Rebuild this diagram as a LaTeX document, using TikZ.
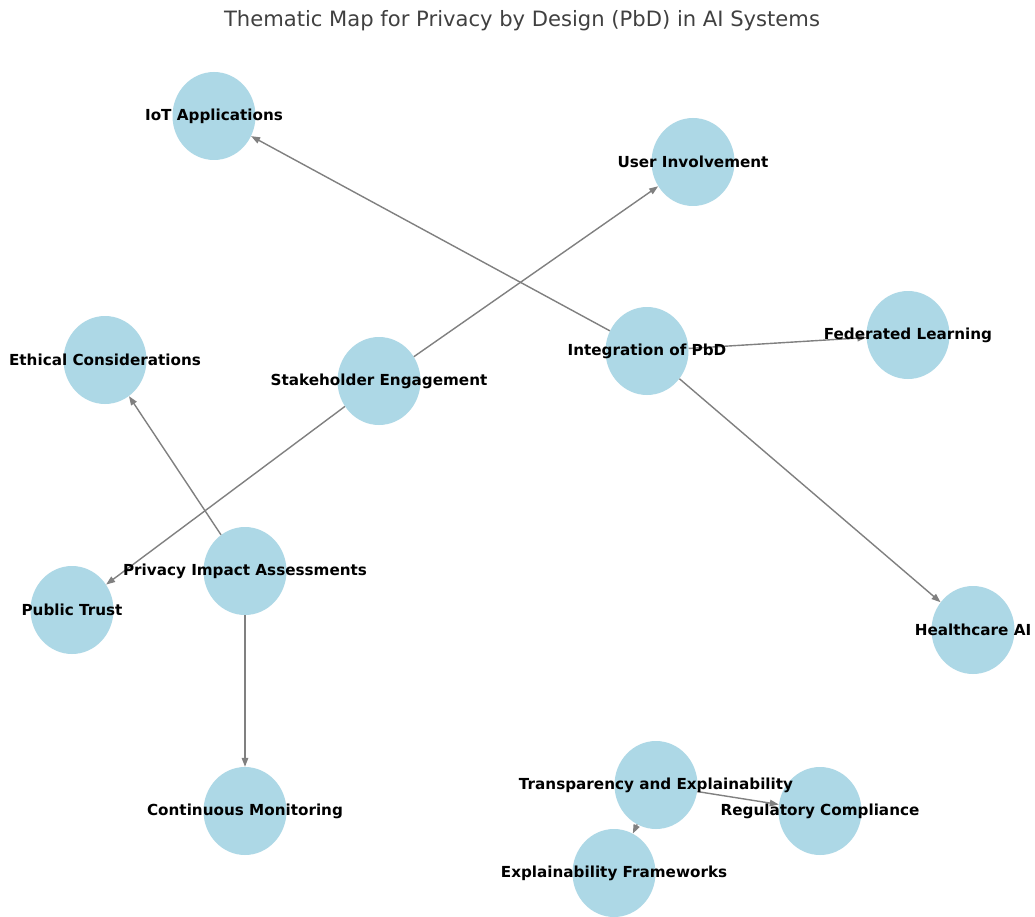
\documentclass[tikz,border=0pt]{standalone}
\usepackage{fontspec}
\setmainfont{DejaVu Sans}
\usetikzlibrary{arrows.meta,shapes.geometric}
\definecolor{nodeblue}{HTML}{ADD8E6}
\definecolor{edgegray}{HTML}{808080}
\definecolor{titlegray}{HTML}{404040}
\tikzset{
  bub/.style={ellipse, fill=nodeblue, draw=none, minimum width=83pt, minimum height=88pt, inner sep=0pt},
  lab/.style={font=\fontsize{15.2}{18}\selectfont\bfseries, text=black, inner sep=0pt},
  edge/.style={draw=edgegray, line width=1.4pt, -{Triangle[length=9pt,width=6.5pt]}},
}
\begin{document}
\begin{tikzpicture}[x=1pt,y=-1pt]
\useasboundingbox (0,0) rectangle (1035,917);
\fill[white] (0,0) rectangle (1035,917);
\node[font=\fontsize{21.1}{25}\selectfont, text=titlegray, inner sep=0pt] (title) at (522,21) {Thematic Map for Privacy by Design (PbD) in AI Systems};
% nodes
\node[bub] (iot) at (214,116) {};
\node[bub] (user) at (693,162) {};
\node[bub] (integ) at (647,351) {};
\node[bub] (fed) at (908,335) {};
\node[bub] (eth) at (105,360) {};
\node[bub] (stake) at (379,381) {};
\node[bub] (pia) at (245,571) {};
\node[bub] (trust) at (72,610) {};
\node[bub] (health) at (973,630) {};
\node[bub] (mon) at (245,811) {};
\node[bub] (trans) at (656,785) {};
\node[bub] (reg) at (820,811) {};
\node[bub] (expl) at (614,873) {};
% edges
\draw[edge] (integ) -- (iot);
\draw[edge] (integ) -- (fed);
\draw[edge] (integ) -- (health);
\draw[edge] (stake) -- (user);
\draw[edge] (stake) -- (trust);
\draw[edge] (pia) -- (eth);
\draw[edge] (pia) -- (mon);
\draw[edge] (trans) -- (reg);
\draw[edge] (trans) -- (expl);
% labels
\node[lab] (liot) at (iot) {IoT Applications};
\node[lab] (luser) at (user) {User Involvement};
\node[lab] (linteg) at (integ) {Integration of PbD};
\node[lab] (lfed) at (fed) {Federated Learning};
\node[lab] (leth) at (eth) {Ethical Considerations};
\node[lab] (lstake) at (stake) {Stakeholder Engagement};
\node[lab] (lpia) at (pia) {Privacy Impact Assessments};
\node[lab] (ltrust) at (trust) {Public Trust};
\node[lab] (lhealth) at (health) {Healthcare AI};
\node[lab] (lmon) at (mon) {Continuous Monitoring};
\node[lab] (ltrans) at (trans) {Transparency and Explainability};
\node[lab] (lreg) at (reg) {Regulatory Compliance};
\node[lab] (lexpl) at (expl) {Explainability Frameworks};
\end{tikzpicture}
\end{document}
